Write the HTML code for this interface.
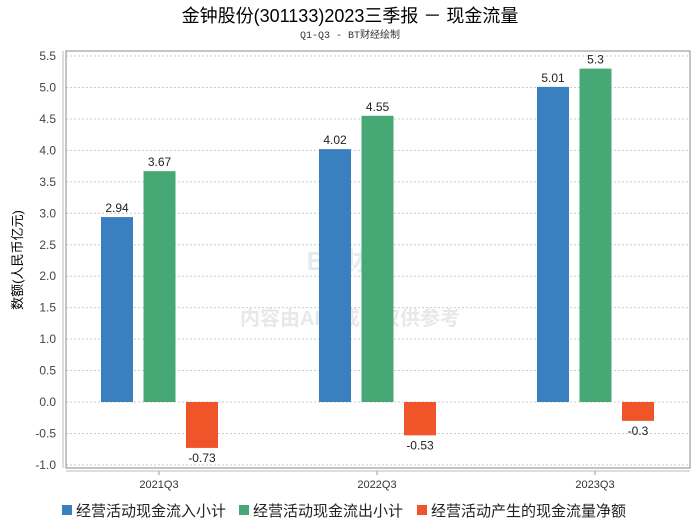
<!DOCTYPE html>
<html><head><meta charset="utf-8"><style>
body{margin:0;background:#fff;width:700px;height:524px;overflow:hidden;font-family:"Liberation Sans","Noto Sans CJK SC",sans-serif}
</style></head><body>
<svg id="c" width="700" height="524" xmlns="http://www.w3.org/2000/svg">
<text x="350" y="22" text-anchor="middle" font-size="18" fill="#000">金钟股份(301133)2023三季报 － 现金流量</text>
<text x="350" y="38" text-anchor="middle" font-size="10" fill="#333" font-family="Liberation Mono,Noto Sans CJK SC,monospace">Q1-Q3 - BT财经绘制</text>
<text x="22" y="260" text-anchor="middle" font-size="13" fill="#000" transform="rotate(-90 22 260)">数额(人民币亿元)</text>
<text x="350" y="270" text-anchor="middle" font-size="26" fill="#e6ebf0" font-weight="bold">BT财经</text>
<text x="350" y="325" text-anchor="middle" font-size="20" fill="#e8e8e8" font-weight="bold">内容由AI生成，仅供参考</text>
<g id="grid"></g><g id="bars"></g>
<rect x="66" y="51" width="624" height="417" fill="none" stroke="#888"/>
<line x1="66" y1="471" x2="690" y2="471" stroke="#bbb"/>
<line x1="63" y1="51" x2="63" y2="468" stroke="#bbb"/>
<g id="legend"></g>
</svg>
<script>
const categories=["2021Q3","2022Q3","2023Q3"];
const inflow=[2.94,4.02,5.01];
const outflow=[3.67,4.55,5.3];
const net=[-0.73,-0.53,-0.3];
const yTicks=[5.5,5.0,4.5,4.0,3.5,3.0,2.5,2.0,1.5,1.0,0.5,0.0,-0.5,-1.0];
const seriesNames=["经营活动现金流入小计","经营活动现金流出小计","经营活动产生的现金流量净额"];
const colors=["#3a7fbf","#46a874","#ef5528"];
const NS="http://www.w3.org/2000/svg";
const y=v=>402-v*62.9;
const xc=i=>159+i*218;
function mk(t,a,p){const e=document.createElementNS(NS,t);for(const k in a)e.setAttribute(k,a[k]);p.appendChild(e);return e;}
const grid=document.getElementById('grid'),bars=document.getElementById('bars'),leg=document.getElementById('legend');
yTicks.forEach(v=>{
 const l=mk('line',{x1:66,x2:690,y1:y(v),y2:y(v),stroke:'#ccc','stroke-dasharray':'2,2'},grid);
 
 
 const t=mk('text',{x:56,y:y(v)+4,'text-anchor':'end','font-size':12,fill:'#444'},grid);
 t.textContent=v.toFixed(1);
 
 
});
const series=[inflow,outflow,net];
categories.forEach((c,i)=>{
 const tk=mk('line',{x1:xc(i),x2:xc(i),y1:471,y2:475,stroke:'#999'},grid);
 
 
 const t=mk('text',{x:xc(i),y:488,'text-anchor':'middle','font-size':11,fill:'#333'},grid);
 t.textContent=c;
 
 
 series.forEach((s,j)=>{
  const v=s[i],x=xc(i)-58+j*42.5;
  const top=Math.min(y(v),y(0)),h=Math.abs(y(v)-y(0));
  const r=mk('rect',{x:x,y:top,width:32,height:h,fill:colors[j]},bars);
  
  
  const lt=mk('text',{x:x+16,y:v>=0?top-5:top+h+14,'text-anchor':'middle','font-size':12,fill:'#222'},bars);
  lt.textContent=String(v);
  
  
 });
});
const lx=[62,239,417];
seriesNames.forEach((n,j)=>{
 const g=mk('g',{},leg);
 
 
 mk('rect',{x:lx[j],y:505,width:10,height:10,fill:colors[j]},g);
 const t=mk('text',{x:lx[j]+14,y:516,'font-size':15,fill:'#222'},g);
 t.textContent=n;
});
</script>
</body></html>
